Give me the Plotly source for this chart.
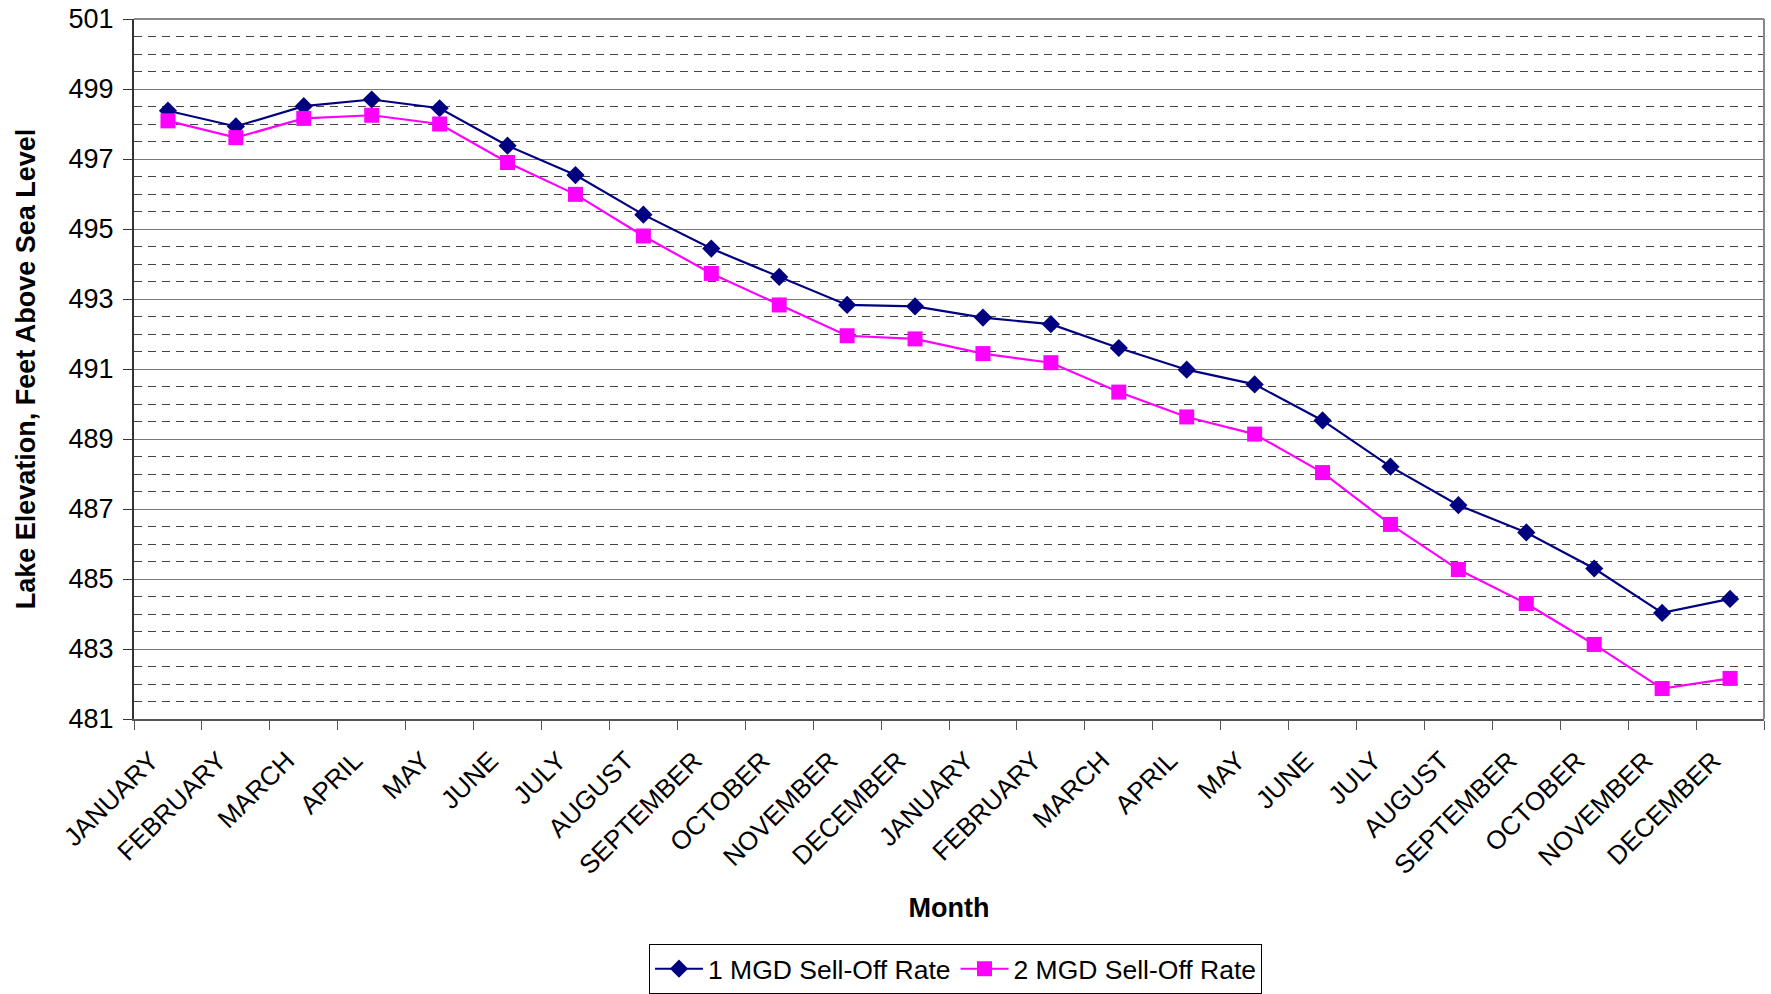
import plotly.graph_objects as go

# Month labels across the two-year simulation
months = [
    "JANUARY", "FEBRUARY", "MARCH", "APRIL", "MAY", "JUNE",
    "JULY", "AUGUST", "SEPTEMBER", "OCTOBER", "NOVEMBER", "DECEMBER",
    "JANUARY", "FEBRUARY", "MARCH", "APRIL", "MAY", "JUNE",
    "JULY", "AUGUST", "SEPTEMBER", "OCTOBER", "NOVEMBER", "DECEMBER",
]

# Lake elevation (ft above sea level) under each sell-off rate
rate_1mgd = [
    498.38, 497.93, 498.51, 498.70, 498.45, 497.38,
    496.54, 495.41, 494.44, 493.63, 492.83, 492.79,
    492.47, 492.28, 491.60, 490.98, 490.56, 489.53,
    488.21, 487.11, 486.33, 485.30, 484.03, 484.43,
]
rate_2mgd = [
    498.09, 497.61, 498.16, 498.25, 498.00, 496.90,
    495.99, 494.80, 493.73, 492.83, 491.95, 491.86,
    491.44, 491.18, 490.34, 489.63, 489.14, 488.04,
    486.56, 485.27, 484.30, 483.13, 481.87, 482.16,
]

y_ticks = [481, 483, 485, 487, 489, 491, 493, 495, 497, 499, 501]

x = list(range(len(months)))
FONT = "Liberation Sans, Arial, sans-serif"

fig = go.Figure()
fig.add_trace(go.Scatter(
    x=x, y=rate_1mgd, mode="lines+markers", name="1 MGD Sell-Off Rate",
    line=dict(color="#000080", width=2.2),
    marker=dict(symbol="diamond", size=14, color="#000080"),
))
fig.add_trace(go.Scatter(
    x=x, y=rate_2mgd, mode="lines+markers", name="2 MGD Sell-Off Rate",
    line=dict(color="#FF00FF", width=2.2),
    marker=dict(symbol="square", size=15, color="#FF00FF"),
))

fig.update_layout(
    width=1771, height=994,
    margin=dict(l=134, r=7, t=19, b=275),
    paper_bgcolor="white", plot_bgcolor="white",
    font=dict(family=FONT, size=26, color="black"),
    showlegend=True,
    legend=dict(
        orientation="h", x=0.504, xanchor="center",
        yref="container", y=0, yanchor="bottom",
        bordercolor="black", borderwidth=1, font=dict(size=26.5),
        itemwidth=48, tracegroupgap=0,
    ),
)

fig.update_xaxes(
    automargin=False,
    range=[-0.5, len(months) - 0.5],
    tickmode="array", tickvals=x, ticktext=months, tickangle=-45,
    ticks="", showgrid=False, zeroline=False,
    showline=True, linecolor="#555555", linewidth=2,
    minor=dict(tick0=-0.5, dtick=1, ticks="outside", ticklen=9,
               tickcolor="#555555", tickwidth=1, showgrid=False),
    tickfont=dict(size=26), ticklabelstandoff=14, ticklabelshift=-17,
    title=dict(text="<b>Month</b>", font=dict(size=27), standoff=19),
)

fig.update_yaxes(
    automargin=False,
    range=[481, 501],
    tickmode="array", tickvals=y_ticks,
    ticks="outside", ticklen=9, tickcolor="#333333",
    showgrid=True, gridcolor="#777777", gridwidth=1.3,
    zeroline=False,
    showline=True, linecolor="#333333", linewidth=2,
    minor=dict(dtick=0.5, tick0=481, showgrid=True, gridcolor="#444444",
               gridwidth=1, griddash="8px,6px", ticks=""),
    tickfont=dict(size=27), ticklabelstandoff=4,
    title=dict(text="<b>Lake Elevation, Feet Above Sea Level</b>",
               font=dict(size=27), standoff=25),
)

# Gray frame along the top and right of the plotting area
fig.add_shape(type="line", xref="paper", yref="paper", x0=0, x1=1, y0=1, y1=1,
              line=dict(color="#888888", width=2))
fig.add_shape(type="line", xref="paper", yref="paper", x0=1, x1=1, y0=0, y1=1,
              line=dict(color="#888888", width=2))

fig.write_html("out.html")
